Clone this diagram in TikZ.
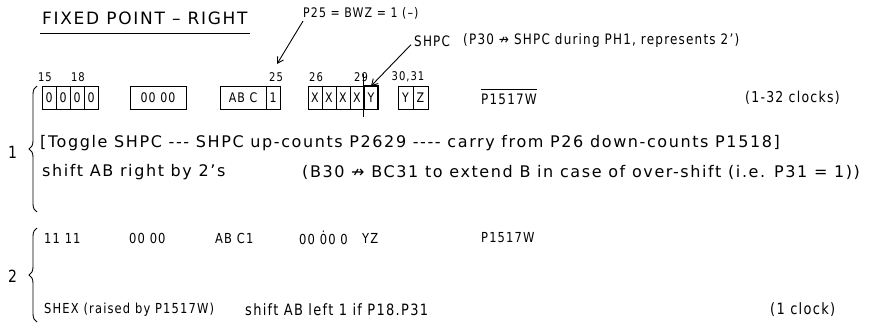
\documentclass[tikz,border=0pt]{standalone}
\usepackage{fontspec}
\setmainfont{DejaVu Sans}[LetterSpace=10]
\usetikzlibrary{arrows.meta,decorations.pathreplacing}

\newcommand{\fs}[1]{\fontsize{#1}{#1}\selectfont}
% hand lettering is a little taller than it is wide
\newcommand{\tall}[1]{\scalebox{1}[1.2]{#1}}

\begin{document}
\begin{tikzpicture}[x=1pt,y=-1pt,
  txt/.style={anchor=west, inner sep=0pt, font=\fs{13}},
  big/.style={txt, font=\fs{16}},
  small/.style={txt, font=\fs{11.5}},
  cell/.style={draw, line width=0.9pt, minimum width=14pt, minimum height=23pt,
               inner sep=0pt, font=\fs{11}},
  lbl/.style={inner sep=0pt, font=\fs{10}},
  pen/.style={line width=0.9pt},
  callout/.style={pen, -{Straight Barb[length=6pt,width=7pt]}},
  curly/.style={pen, decorate, decoration={brace, amplitude=8pt}}
]
\useasboundingbox (0,0) rectangle (879,335);

% heading
\node[txt, font=\fs{17}] (title) at (42,18) {FIXED POINT – RIGHT};
\draw[pen] (40,33) -- (250,33);

% bit positions
\node[lbl] (l15) at (45,77) {\tall{15}};
\node[lbl] (l18) at (78,77) {\tall{18}};
\node[lbl] (l25) at (276,77) {\tall{25}};
\node[lbl] (l26) at (316,77) {\tall{26}};
\node[lbl] (l29) at (361,77) {\tall{29}};
\node[lbl] (l3031) at (408,77) {\tall{30,31}};

% register contents, step 1
\node[cell] (a1) at (49,98) {\tall{0}};
\node[cell] (a2) at (63,98) {\tall{0}};
\node[cell] (a3) at (77,98) {\tall{0}};
\node[cell] (a4) at (91,98) {\tall{0}};

\node[cell, minimum width=56pt] (b) at (158,98) {\tall{00 00}};

\node[cell, minimum width=46pt] (c1) at (243,98) {\tall{AB C}};
\node[cell] (c2) at (273,98) {\tall{1}};

\node[cell] (d1) at (315,98) {\tall{X}};
\node[cell] (d2) at (329,98) {\tall{X}};
\node[cell] (d3) at (343,98) {\tall{X}};
\node[cell] (d4) at (357,98) {\tall{X}};
\node[cell] (d5) at (371,98) {\tall{Y}};
\draw[line width=2pt] (d5.north west) -- (d5.north east) -- (d5.south east);
\draw[pen] ([yshift=12pt]d5.north west) -- ([yshift=-7pt]d5.south west);

\node[cell, minimum width=15pt] (e1) at (405.5,98) {\tall{Y}};
\node[cell, minimum width=15pt] (e2) at (420.5,98) {\tall{Z}};

\node[txt, font=\fs{12}] (ov) at (481,99) {\tall{P1517W}};
\draw[pen] ([yshift=4pt]ov.north west) -- ([yshift=4pt]ov.north east);
\node[txt, font=\fs{12.5}] (clk32) at (745,98) {\tall{(1-32 clocks)}};

% annotations
\node[txt, font=\fs{11}] (p25) at (303,13) {\tall{P25 = BWZ = 1 (–)}};
\coordinate (p25tip) at (277,64);
\draw[callout] ([yshift=-2pt]p25.south west) -- (p25tip);

\node[txt, font=\fs{12}] (shpc) at (414,41) {\tall{SHPC}};
\node[txt, font=\fs{12}] (shpcnote) at (463,41) {\tall{(P30 ↛ SHPC during PH1, represents 2')}};
\draw[callout] ([xshift=-3pt,yshift=2pt]shpc.south west) -- (d5.north);

% step 1 actions
\node[big] (toggle) at (40,143) {[Toggle SHPC {-}{-}{-} SHPC up-counts P2629 {-}{-}{-}{-} carry from P26 down-counts P1518]};
\node[big] (shiftr) at (42,172) {shift AB right by 2's};
\node[big] (extend) at (302,172) {(B30 ↛ BC31 to extend B in case of over-shift (i.e. P31 = 1))};

\node[txt, font=\fs{14}] (n1) at (8,152) {\tall{1}};
\draw[curly] (37,212) -- (37,86);

% step 2
\node[txt, font=\fs{14}] (n2) at (8,276) {\tall{2}};
\draw[curly] (37,322) -- (37,228);

\node[small] (r1) at (44,238) {\tall{11 11}};
\node[small] (r2) at (129,238) {\tall{00 00}};
\node[small] (r3) at (215,238) {\tall{AB C1}};
\node[small] (r4) at (299,238) {\tall{00 \.{0}0 0}};
\node[small] (r5) at (362,238) {\tall{YZ}};
\node[small] (r6) at (481,238) {\tall{P1517W}};

\node[small] (shex) at (44,310) {\tall{SHEX (raised by P1517W)}};
\node[txt] (shl) at (245,310) {\tall{shift AB left 1 if P18.P31}};
\node[txt] (clk1) at (770,310) {\tall{(1 clock)}};
\end{tikzpicture}
\end{document}
